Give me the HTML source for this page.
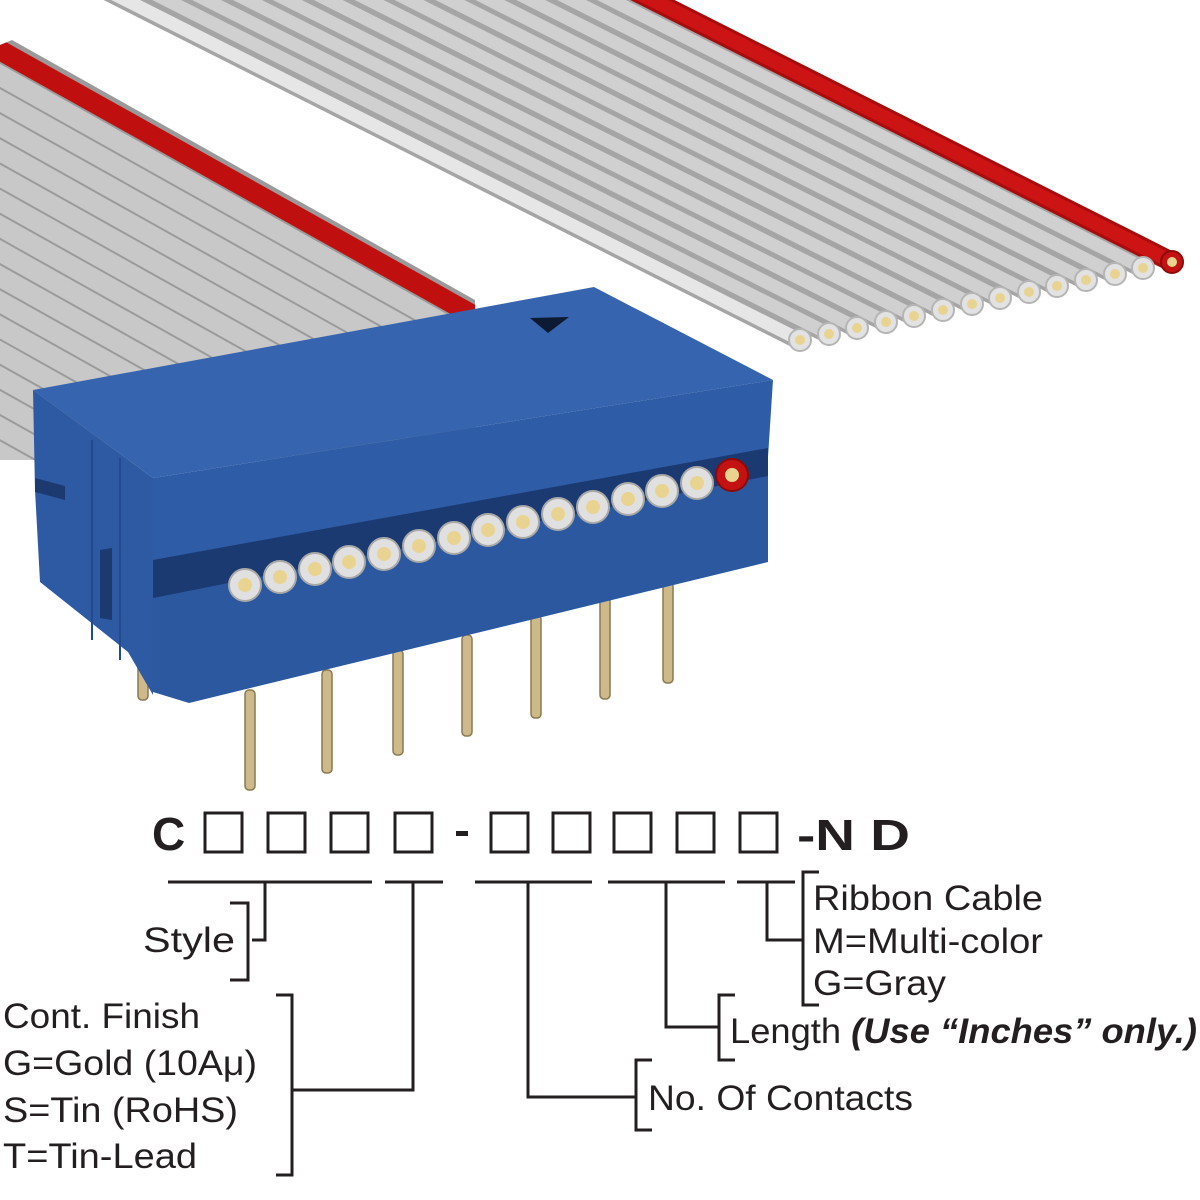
<!DOCTYPE html>
<html><head><meta charset="utf-8"><style>
html,body{margin:0;padding:0;background:#fff;}
svg{display:block;}
text{font-family:"Liberation Sans",sans-serif;fill:#231f20;}
</style></head><body>
<svg width="1200" height="1200" viewBox="0 0 1200 1200">
<defs>
<clipPath id="lr"><polygon points="0,45 12,40 475,300 475,460 0,460"/></clipPath>
</defs>
<!-- left ribbon -->
<g clip-path="url(#lr)">
  <polygon points="-300,-200 600,300 600,700 -300,700" fill="#9a9a9a"/>
</g>
<g clip-path="url(#lr)" fill="none" stroke-width="20" stroke="#c8c8c8">
  <line x1="-229" y1="-78" x2="480" y2="319" stroke="#c00f0f"/>
  <line x1="-240" y1="-59" x2="469" y2="338"/>
  <line x1="-251" y1="-40" x2="458" y2="357"/>
  <line x1="-262" y1="-21" x2="447" y2="376"/>
  <line x1="-273" y1="-2" x2="436" y2="395"/>
  <line x1="-284" y1="17" x2="425" y2="414"/>
  <line x1="-295" y1="36" x2="414" y2="433"/>
  <line x1="-306" y1="55" x2="403" y2="452"/>
  <line x1="-317" y1="74" x2="392" y2="471"/>
  <line x1="-328" y1="93" x2="381" y2="490"/>
  <line x1="-339" y1="112" x2="370" y2="509"/>
  <line x1="-350" y1="131" x2="359" y2="528"/>
  <line x1="-361" y1="150" x2="348" y2="547"/>
  <line x1="-372" y1="169" x2="337" y2="566"/>
  <line x1="-383" y1="188" x2="326" y2="585"/>
  <line x1="-394" y1="207" x2="315" y2="604"/>
  <line x1="-405" y1="226" x2="304" y2="623"/>
  <line x1="-416" y1="245" x2="293" y2="642"/>
  <line x1="-427" y1="264" x2="282" y2="661"/>
  <line x1="-438" y1="283" x2="271" y2="680"/>
</g>
<!-- right ribbon conductors -->
<g stroke-linecap="butt" fill="none">
  <g stroke="#a5a5a5" stroke-width="20">
    <line x1="800" y1="340" x2="-25" y2="-76"/>
    <line x1="829" y1="334" x2="4" y2="-82"/>
    <line x1="857" y1="328" x2="32" y2="-88"/>
    <line x1="886" y1="322" x2="61" y2="-94"/>
    <line x1="914" y1="316" x2="89" y2="-100"/>
    <line x1="943" y1="310" x2="118" y2="-106"/>
    <line x1="972" y1="304" x2="147" y2="-112"/>
    <line x1="1000" y1="298" x2="175" y2="-118"/>
    <line x1="1029" y1="292" x2="204" y2="-124"/>
    <line x1="1057" y1="286" x2="232" y2="-130"/>
    <line x1="1086" y1="280" x2="261" y2="-136"/>
    <line x1="1115" y1="274" x2="290" y2="-142"/>
    <line x1="1143" y1="268" x2="318" y2="-148"/>
  </g>
  <g stroke="#d0d0d0" stroke-width="13">
    <line x1="800" y1="340" x2="-25" y2="-76" stroke="#e6e6e6"/>
    <line x1="829" y1="334" x2="4" y2="-82"/>
    <line x1="857" y1="328" x2="32" y2="-88"/>
    <line x1="886" y1="322" x2="61" y2="-94"/>
    <line x1="914" y1="316" x2="89" y2="-100"/>
    <line x1="943" y1="310" x2="118" y2="-106"/>
    <line x1="972" y1="304" x2="147" y2="-112"/>
    <line x1="1000" y1="298" x2="175" y2="-118"/>
    <line x1="1029" y1="292" x2="204" y2="-124"/>
    <line x1="1057" y1="286" x2="232" y2="-130"/>
    <line x1="1086" y1="280" x2="261" y2="-136"/>
    <line x1="1115" y1="274" x2="290" y2="-142"/>
    <line x1="1143" y1="268" x2="318" y2="-148"/>
  </g>
  <line x1="1172" y1="262" x2="347" y2="-154" stroke="#a80c0c" stroke-width="20"/>
  <line x1="1172" y1="262" x2="347" y2="-154" stroke="#cc1414" stroke-width="14"/>
</g>
<g>
  <g fill="#e2e2e2" stroke="#b5b5b5" stroke-width="2">
    <circle cx="800" cy="340" r="11"/><circle cx="829" cy="334" r="11"/><circle cx="857" cy="328" r="11"/>
    <circle cx="886" cy="322" r="11"/><circle cx="914" cy="316" r="11"/><circle cx="943" cy="310" r="11"/>
    <circle cx="972" cy="304" r="11"/><circle cx="1000" cy="298" r="11"/><circle cx="1029" cy="292" r="11"/>
    <circle cx="1057" cy="286" r="11"/><circle cx="1086" cy="280" r="11"/><circle cx="1115" cy="274" r="11"/>
    <circle cx="1143" cy="268" r="11"/>
  </g>
  <circle cx="1172" cy="262" r="11" fill="#c41212" stroke="#8c0a0a" stroke-width="2"/>
  <g fill="#e8d391">
    <circle cx="800" cy="340" r="5"/><circle cx="829" cy="334" r="5"/><circle cx="857" cy="328" r="5"/>
    <circle cx="886" cy="322" r="5"/><circle cx="914" cy="316" r="5"/><circle cx="943" cy="310" r="5"/>
    <circle cx="972" cy="304" r="5"/><circle cx="1000" cy="298" r="5"/><circle cx="1029" cy="292" r="5"/>
    <circle cx="1057" cy="286" r="5"/><circle cx="1086" cy="280" r="5"/><circle cx="1115" cy="274" r="5"/>
    <circle cx="1143" cy="268" r="5"/><circle cx="1172" cy="262" r="5"/>
  </g>
</g>
<!-- pins -->
<g fill="#cdb98a" stroke="#8a7a52" stroke-width="1.5">
  <rect x="138" y="650" width="10" height="50" rx="4"/>
  <rect x="245" y="690" width="10" height="100" rx="4"/>
  <rect x="322" y="670" width="10" height="103" rx="4"/>
  <rect x="393" y="650" width="10" height="105" rx="4"/>
  <rect x="462" y="635" width="10" height="101" rx="4"/>
  <rect x="531" y="615" width="10" height="103" rx="4"/>
  <rect x="600" y="595" width="10" height="104" rx="4"/>
  <rect x="663" y="580" width="10" height="103" rx="4"/>
</g>
<!-- connector -->
<polygon points="33,390 153,478 153,695 128,652 40,582 35,490" fill="#2d5aa3"/>
<polygon points="35,478 65,486 65,500 35,492" fill="#1c3a70"/>
<polygon points="100,550 112,548 112,620 100,618" fill="#1c3a70"/>
<line x1="92" y1="440" x2="92" y2="640" stroke="#234a8c" stroke-width="2"/>
<line x1="120" y1="458" x2="120" y2="660" stroke="#234a8c" stroke-width="2"/>
<polygon points="33,390 594,287 773,380 153,478" fill="#3664ae"/>
<polygon points="530,318 569,317 548,333" fill="#0d1a33"/>
<polygon points="153,478 773,380 768,457 153,578" fill="#2f5ca6"/>
<polygon points="153,560 768,448 768,482 153,605" fill="#1b3a72"/>
<polygon points="153,598 768,476 768,562 189,703 153,692" fill="#2c58a0"/>
<g fill="#e0e0e0" stroke="#a8a8a8" stroke-width="2">
  <circle cx="245" cy="585" r="16"/><circle cx="280" cy="577" r="16"/><circle cx="315" cy="569" r="16"/>
  <circle cx="349" cy="562" r="16"/><circle cx="384" cy="554" r="16"/><circle cx="419" cy="546" r="16"/>
  <circle cx="454" cy="538" r="16"/><circle cx="488" cy="530" r="16"/><circle cx="523" cy="522" r="16"/>
  <circle cx="558" cy="514" r="16"/><circle cx="593" cy="507" r="16"/><circle cx="628" cy="499" r="16"/>
  <circle cx="662" cy="491" r="16"/><circle cx="697" cy="483" r="16"/>
</g>
<circle cx="732" cy="475" r="16" fill="#c41212" stroke="#8c0a0a" stroke-width="2"/>
<g fill="#e8d391">
  <circle cx="245" cy="585" r="7"/><circle cx="280" cy="577" r="7"/><circle cx="315" cy="569" r="7"/>
  <circle cx="349" cy="562" r="7"/><circle cx="384" cy="554" r="7"/><circle cx="419" cy="546" r="7"/>
  <circle cx="454" cy="538" r="7"/><circle cx="488" cy="530" r="7"/><circle cx="523" cy="522" r="7"/>
  <circle cx="558" cy="514" r="7"/><circle cx="593" cy="507" r="7"/><circle cx="628" cy="499" r="7"/>
  <circle cx="662" cy="491" r="7"/><circle cx="697" cy="483" r="7"/><circle cx="732" cy="475" r="7"/>
</g>

<!-- part number -->
<text x="152" y="850" font-size="46" font-weight="bold">C</text>
<g fill="none" stroke="#231f20" stroke-width="3">
  <rect x="205" y="813" width="37" height="39"/>
  <rect x="268" y="813" width="37" height="39"/>
  <rect x="331" y="813" width="37" height="39"/>
  <rect x="395" y="813" width="37" height="39"/>
  <rect x="491" y="813" width="37" height="39"/>
  <rect x="553" y="813" width="37" height="39"/>
  <rect x="614" y="813" width="37" height="39"/>
  <rect x="677" y="813" width="37" height="39"/>
  <rect x="740" y="813" width="37" height="39"/>
</g>
<rect x="456" y="831" width="12" height="5" fill="#231f20"/>
<text x="797" y="850" font-size="44" font-weight="bold" textLength="113" lengthAdjust="spacingAndGlyphs">-N D</text>

<g stroke="#231f20" stroke-width="3" fill="none">
  <line x1="168" y1="882" x2="372" y2="882"/>
  <line x1="385" y1="882" x2="443" y2="882"/>
  <line x1="475" y1="882" x2="592" y2="882"/>
  <line x1="608" y1="882" x2="725" y2="882"/>
  <line x1="737" y1="882" x2="795" y2="882"/>
  <polyline points="265,882 265,940 252,940"/>
  <polyline points="230,903 248,903 248,980 230,980"/>
  <polyline points="413,882 413,1090 292,1090"/>
  <polyline points="276,995 292,995 292,1175 276,1175"/>
  <polyline points="528,882 528,1097 636,1097"/>
  <polyline points="652,1060 636,1060 636,1130 652,1130"/>
  <polyline points="666,882 666,1027 719,1027"/>
  <polyline points="735,995 719,995 719,1060 735,1060"/>
  <polyline points="767,882 767,940 803,940"/>
  <polyline points="819,872 803,872 803,1005 819,1005"/>
</g>
<g font-size="35" lengthAdjust="spacingAndGlyphs">
  <text x="813" y="910" textLength="230" lengthAdjust="spacingAndGlyphs">Ribbon Cable</text>
  <text x="813" y="953" textLength="230" lengthAdjust="spacingAndGlyphs">M=Multi-color</text>
  <text x="813" y="995" textLength="133" lengthAdjust="spacingAndGlyphs">G=Gray</text>
  <text x="730" y="1043" textLength="467" lengthAdjust="spacingAndGlyphs">Length <tspan font-weight="bold" font-style="italic">(Use “Inches” only.)</tspan></text>
  <text x="648" y="1110" textLength="265" lengthAdjust="spacingAndGlyphs">No. Of Contacts</text>
  <text x="143" y="952" textLength="92" lengthAdjust="spacingAndGlyphs">Style</text>
  <text x="3" y="1028" textLength="197" lengthAdjust="spacingAndGlyphs">Cont. Finish</text>
  <text x="3" y="1075" textLength="254" lengthAdjust="spacingAndGlyphs">G=Gold (10Aμ)</text>
  <text x="3" y="1122" textLength="235" lengthAdjust="spacingAndGlyphs">S=Tin (RoHS)</text>
  <text x="3" y="1168" textLength="194" lengthAdjust="spacingAndGlyphs">T=Tin-Lead</text>
</g>
</svg>
</body></html>
